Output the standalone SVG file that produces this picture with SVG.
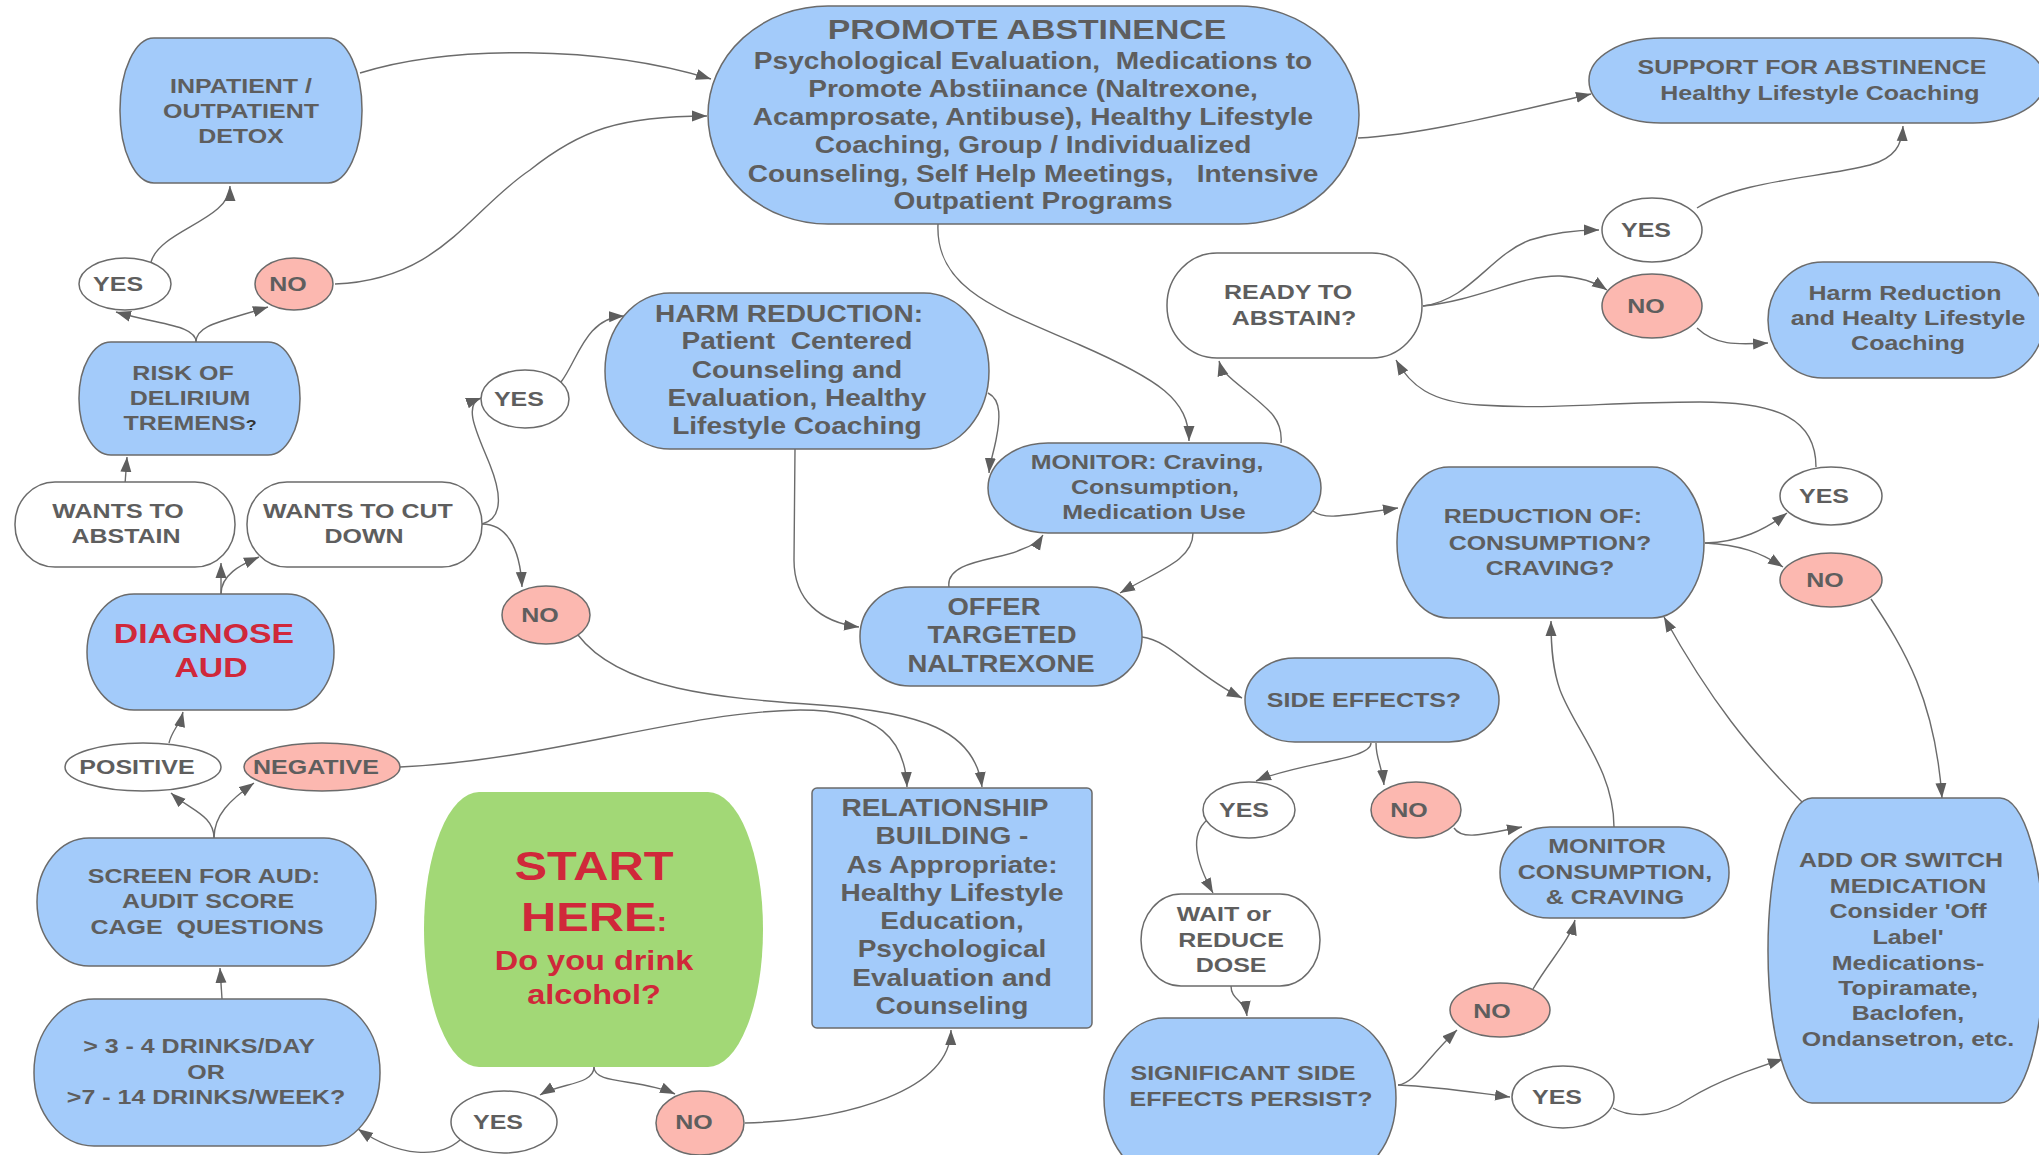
<svg xmlns="http://www.w3.org/2000/svg" width="2039" height="1155" viewBox="0 0 2039 1155">
<style>
.n{stroke:#6b6b6b;stroke-width:1.5}
.b{fill:#a3cbfa}.w{fill:#fff}.p{fill:#fcb8b0}.g{fill:#a2d876}
.t{font-family:"Liberation Sans",Arial,sans-serif;font-weight:bold;fill:#5e5e5e;text-anchor:middle;font-size:21px}
.r{fill:#d0283a}
.c path{fill:none;stroke:#6b6b6b;stroke-width:1.4;marker-end:url(#a)}
</style>
<defs>
<marker id="a" markerUnits="userSpaceOnUse" markerWidth="16" markerHeight="12" refX="15" refY="6" orient="auto"><path d="M0,0.5 L15,6 L0,11.5 z" fill="#5e5e5e"/></marker>
</defs>
<rect width="2039" height="1155" fill="#fff"/>
<g id="connectors" class="c">
<path d="M360,73 C450,45 600,45 711,79"/>
<path d="M335,284 C440,280 470,210 530,170 C580,130 620,116 707,116"/>
<path d="M196,342 C196,325 160,325 116,312"/>
<path d="M196,342 C196,325 220,322 268,307"/>
<path d="M151,262 C160,230 230,220 230,186"/>
<path d="M125,484 L127,457"/>
<path d="M221,594 L221,563"/>
<path d="M221,594 C221,575 240,565 259,557"/>
<path d="M169,743 C172,730 180,725 183,712"/>
<path d="M214,838 C214,815 190,810 171,793"/>
<path d="M214,838 C214,815 230,800 254,783"/>
<path d="M222,999 L220,968"/>
<path d="M460,1140 C440,1158 400,1158 358,1129"/>
<path d="M594,1067 C594,1085 560,1083 540,1095"/>
<path d="M594,1067 C594,1085 640,1078 675,1094"/>
<path d="M745,1123 C850,1120 950,1090 951,1030"/>
<path d="M400,767 C550,760 680,712 800,710 C880,710 905,740 907,787"/>
<path d="M578,635 C620,690 720,698 820,705 C920,712 975,730 982,787"/>
<path d="M482,524 C505,518 500,490 490,465 C478,435 462,405 481,398"/>
<path d="M482,524 C505,524 520,545 522,587"/>
<path d="M561,382 C578,360 585,318 624,316"/>
<path d="M795,449 L794,560 C794,600 820,622 859,627"/>
<path d="M988,393 C1002,400 1000,420 996,440 C993,455 990,462 989,473"/>
<path d="M938,224 C935,290 1000,310 1080,345 C1160,380 1189,400 1189,441"/>
<path d="M1281,443 C1283,420 1270,410 1245,390 C1230,378 1222,372 1219,361"/>
<path d="M1193,533 C1193,560 1160,570 1120,593"/>
<path d="M949,587 C945,560 1000,560 1020,550 C1035,545 1040,540 1043,535"/>
<path d="M1313,511 C1325,520 1340,516 1398,508"/>
<path d="M1142,637 C1170,640 1195,675 1242,698"/>
<path d="M1371,743 C1371,760 1300,762 1256,781"/>
<path d="M1376,743 C1376,760 1382,765 1384,785"/>
<path d="M1207,820 C1190,835 1195,860 1213,893"/>
<path d="M1231,986 C1231,1000 1245,1000 1247,1016"/>
<path d="M1454,828 C1462,840 1480,835 1522,827"/>
<path d="M1533,989 C1550,960 1570,940 1575,920"/>
<path d="M1398,1085 C1415,1083 1425,1060 1457,1030"/>
<path d="M1398,1085 C1440,1087 1470,1092 1510,1097"/>
<path d="M1613,1108 C1630,1118 1660,1118 1690,1098 C1720,1080 1750,1070 1783,1059"/>
<path d="M1614,827 C1614,770 1575,730 1560,690 C1553,670 1551,650 1551,621"/>
<path d="M1805,805 C1750,750 1710,700 1664,617"/>
<path d="M1871,599 C1905,650 1935,700 1942,798"/>
<path d="M1705,543 C1740,542 1765,530 1787,513"/>
<path d="M1705,543 C1740,545 1760,552 1783,567"/>
<path d="M1816,467 C1816,420 1780,402 1700,402 C1600,402 1560,410 1480,405 C1430,402 1410,385 1396,360"/>
<path d="M1423,306 C1470,300 1490,255 1530,240 C1555,232 1575,230 1599,230"/>
<path d="M1423,306 C1480,300 1520,275 1560,276 C1580,277 1595,282 1607,290"/>
<path d="M1697,328 C1715,345 1735,345 1768,343"/>
<path d="M1697,208 C1740,180 1820,178 1870,165 C1895,158 1902,145 1903,126"/>
<path d="M1358,138 C1420,135 1500,115 1591,94"/>
</g>
<g id="detox"><rect class="n b" x="120" y="38" width="242" height="145" rx="34" ry="72"/>
<text class="t" transform="scale(1.19 1)"><tspan x="202.5" y="93">INPATIENT /</tspan><tspan x="202.5" y="118">OUTPATIENT</tspan><tspan x="202.5" y="143">DETOX</tspan></text></g>
<g id="promote"><rect class="n b" x="708" y="6" width="651" height="218" rx="120" ry="109"/>
<text class="t" transform="scale(1.19 1)"><tspan x="863" y="39" style="font-size:28.4px">PROMOTE ABSTINENCE</tspan><tspan x="868.1" y="69" style="font-size:23.6px">Psychological Evaluation,&#160; Medications to</tspan><tspan x="868.1" y="97" style="font-size:23.6px">Promote Abstiinance (Naltrexone,</tspan><tspan x="868.1" y="125" style="font-size:23.6px">Acamprosate, Antibuse), Healthy Lifestyle</tspan><tspan x="868.1" y="153" style="font-size:23.6px">Coaching, Group / Individualized</tspan><tspan x="868.1" y="182" style="font-size:23.6px">Counseling, Self Help Meetings,&#160;&#160; Intensive</tspan><tspan x="868.1" y="209" style="font-size:23.6px">Outpatient Programs</tspan></text></g>
<g id="support"><rect class="n b" x="1589" y="38" width="456" height="85" rx="72" ry="42"/>
<text class="t" transform="scale(1.19 1)"><tspan x="1522.7" y="74">SUPPORT FOR ABSTINENCE</tspan><tspan x="1529.4" y="100">Healthy Lifestyle Coaching</tspan></text></g>
<g id="ready"><rect class="n w" x="1167" y="253" width="255" height="105" rx="50" ry="52"/>
<text class="t" transform="scale(1.19 1)"><tspan x="1082.4" y="299">READY TO</tspan><tspan x="1087.4" y="325">ABSTAIN?</tspan></text></g>
<g id="yes-ready"><ellipse class="n w" cx="1652" cy="230" rx="50" ry="32"/><text class="t" transform="scale(1.19 1)" x="1383.2" y="237">YES</text></g>
<g id="no-ready"><ellipse class="n p" cx="1652" cy="306" rx="50" ry="32"/><text class="t" transform="scale(1.19 1)" x="1383.2" y="313">NO</text></g>
<g id="harm-right"><rect class="n b" x="1768" y="262" width="276" height="116" rx="55" ry="58"/>
<text class="t" transform="scale(1.19 1)"><tspan x="1600.8" y="300">Harm Reduction</tspan><tspan x="1603.4" y="325">and Healty Lifestyle</tspan><tspan x="1603.4" y="350">Coaching</tspan></text></g>
<g id="risk"><rect class="n b" x="79" y="342" width="221" height="113" rx="32" ry="56"/>
<text class="t" transform="scale(1.19 1)"><tspan x="153.8" y="380">RISK OF</tspan><tspan x="159.7" y="405">DELIRIUM</tspan><tspan x="159.7" y="430">TREMENS<tspan style="font-size:15px;fill:#333">?</tspan></tspan></text></g>
<g id="yes-risk"><ellipse class="n w" cx="125" cy="284" rx="46" ry="26"/><text class="t" transform="scale(1.19 1)" x="99.2" y="291">YES</text></g>
<g id="no-risk"><ellipse class="n p" cx="294" cy="284" rx="39" ry="26"/><text class="t" transform="scale(1.19 1)" x="242" y="291">NO</text></g>
<g id="yes-cut"><ellipse class="n w" cx="525" cy="399" rx="44" ry="29"/><text class="t" transform="scale(1.19 1)" x="436.1" y="406">YES</text></g>
<g id="harm"><rect class="n b" x="605" y="293" width="384" height="156" rx="65" ry="78"/>
<text class="t" transform="scale(1.19 1)" style="font-size:23.6px"><tspan x="663" y="322">HARM REDUCTION:</tspan><tspan x="669.7" y="349">Patient&#160; Centered</tspan><tspan x="669.7" y="378">Counseling and</tspan><tspan x="669.7" y="406">Evaluation, Healthy</tspan><tspan x="669.7" y="434">Lifestyle Coaching</tspan></text></g>
<g id="abstain"><rect class="n w" x="15" y="482" width="220" height="85" rx="40" ry="42"/>
<text class="t" transform="scale(1.19 1)"><tspan x="99.2" y="518">WANTS TO</tspan><tspan x="105.9" y="543">ABSTAIN</tspan></text></g>
<g id="cutdown"><rect class="n w" x="247" y="482" width="235" height="85" rx="40" ry="42"/>
<text class="t" transform="scale(1.19 1)"><tspan x="300.8" y="518">WANTS TO CUT</tspan><tspan x="305.9" y="543">DOWN</tspan></text></g>
<g id="no-cut"><ellipse class="n p" cx="546" cy="615" rx="44" ry="29"/><text class="t" transform="scale(1.19 1)" x="453.8" y="622">NO</text></g>
<g id="diagnose"><rect class="n b" x="87" y="594" width="247" height="116" rx="47" ry="58"/>
<text class="t r" transform="scale(1.19 1)" style="font-size:28.4px"><tspan x="171.4" y="643">DIAGNOSE</tspan><tspan x="177.3" y="677">AUD</tspan></text></g>
<g id="positive"><ellipse class="n w" cx="143" cy="767" rx="78" ry="24"/><text class="t" transform="scale(1.19 1)" x="115.1" y="774">POSITIVE</text></g>
<g id="negative"><ellipse class="n p" cx="322" cy="767" rx="78" ry="24"/><text class="t" transform="scale(1.19 1)" x="265.5" y="774">NEGATIVE</text></g>
<g id="screen"><rect class="n b" x="37" y="838" width="339" height="128" rx="52" ry="64"/>
<text class="t" transform="scale(1.19 1)"><tspan x="171.4" y="883">SCREEN FOR AUD:</tspan><tspan x="174.8" y="908">AUDIT SCORE</tspan><tspan x="174" y="934">CAGE&#160; QUESTIONS</tspan></text></g>
<g id="drinks"><rect class="n b" x="34" y="999" width="346" height="147" rx="60" ry="73"/>
<text class="t" transform="scale(1.19 1)"><tspan x="167.2" y="1053">&gt; 3 - 4 DRINKS/DAY</tspan><tspan x="173.1" y="1079">OR</tspan><tspan x="173.1" y="1104">&gt;7 - 14 DRINKS/WEEK?</tspan></text></g>
<g id="start"><rect class="g" x="424" y="792" width="339" height="275" rx="55" ry="137"/>
<text class="t r" transform="scale(1.19 1)"><tspan x="499.2" y="880" style="font-size:41px">START</tspan><tspan x="499.2" y="931" style="font-size:41px">HERE<tspan style="font-size:27px">:</tspan></tspan><tspan x="499.2" y="970" style="font-size:27.3px">Do you drink</tspan><tspan x="499.2" y="1004" style="font-size:27.3px">alcohol?</tspan></text></g>
<g id="yes-start"><ellipse class="n w" cx="504" cy="1122" rx="53" ry="31"/><text class="t" transform="scale(1.19 1)" x="418.5" y="1129">YES</text></g>
<g id="no-start"><ellipse class="n p" cx="700" cy="1123" rx="44" ry="32"/><text class="t" transform="scale(1.19 1)" x="583.2" y="1129">NO</text></g>
<g id="relationship"><rect class="n b" x="812" y="788" width="280" height="240" rx="5"/>
<text class="t" transform="scale(1.19 1)" style="font-size:23.6px"><tspan x="794.1" y="816">RELATIONSHIP</tspan><tspan x="800" y="844">BUILDING -</tspan><tspan x="800" y="873">As Appropriate:</tspan><tspan x="800" y="901">Healthy Lifestyle</tspan><tspan x="800" y="929">Education,</tspan><tspan x="800" y="957">Psychological</tspan><tspan x="800" y="986">Evaluation and</tspan><tspan x="800" y="1014">Counseling</tspan></text></g>
<g id="monitor"><rect class="n b" x="988" y="443" width="333" height="90" rx="60" ry="45"/>
<text class="t" transform="scale(1.19 1)"><tspan x="963.9" y="469">MONITOR: Craving,</tspan><tspan x="970.6" y="494">Consumption,</tspan><tspan x="969.7" y="519">Medication Use</tspan></text></g>
<g id="offer"><rect class="n b" x="860" y="587" width="282" height="99" rx="50" ry="49"/>
<text class="t" transform="scale(1.19 1)" style="font-size:23.1px"><tspan x="835.3" y="615">OFFER</tspan><tspan x="842" y="643">TARGETED</tspan><tspan x="841.2" y="672">NALTREXONE</tspan></text></g>
<g id="reduction"><rect class="n b" x="1397" y="467" width="307" height="151" rx="52" ry="75"/>
<text class="t" transform="scale(1.19 1)"><tspan x="1296.6" y="523">REDUCTION OF:</tspan><tspan x="1302.5" y="550">CONSUMPTION?</tspan><tspan x="1302.5" y="575">CRAVING?</tspan></text></g>
<g id="yes-reduction"><ellipse class="n w" cx="1831" cy="496" rx="51" ry="29"/><text class="t" transform="scale(1.19 1)" x="1532.8" y="503">YES</text></g>
<g id="no-reduction"><ellipse class="n p" cx="1831" cy="580" rx="51" ry="27"/><text class="t" transform="scale(1.19 1)" x="1533.6" y="587">NO</text></g>
<g id="side-effects"><rect class="n b" x="1245" y="658" width="254" height="84" rx="50" ry="42"/>
<text class="t" transform="scale(1.19 1)" x="1146.2" y="707">SIDE EFFECTS?</text></g>
<g id="yes-side"><ellipse class="n w" cx="1249" cy="810" rx="46" ry="28"/><text class="t" transform="scale(1.19 1)" x="1045.4" y="817">YES</text></g>
<g id="no-side"><ellipse class="n p" cx="1416" cy="810" rx="45" ry="28"/><text class="t" transform="scale(1.19 1)" x="1184" y="817">NO</text></g>
<g id="wait"><rect class="n w" x="1141" y="894" width="179" height="92" rx="40" ry="46"/>
<text class="t" transform="scale(1.19 1)"><tspan x="1028.6" y="921">WAIT or</tspan><tspan x="1034.5" y="947">REDUCE</tspan><tspan x="1034.5" y="972">DOSE</tspan></text></g>
<g id="monitor-consumption"><rect class="n b" x="1500" y="827" width="229" height="91" rx="50" ry="45"/>
<text class="t" transform="scale(1.19 1)"><tspan x="1350.4" y="853">MONITOR</tspan><tspan x="1357.1" y="879">CONSUMPTION,</tspan><tspan x="1357.1" y="904">&amp; CRAVING</tspan></text></g>
<g id="no-significant"><ellipse class="n p" cx="1500" cy="1010" rx="50" ry="27"/><text class="t" transform="scale(1.19 1)" x="1253.8" y="1018">NO</text></g>
<g id="significant"><rect class="n b" x="1104" y="1018" width="292" height="160" rx="60" ry="80"/>
<text class="t" transform="scale(1.19 1)"><tspan x="1044.5" y="1080">SIGNIFICANT SIDE</tspan><tspan x="1051.3" y="1106">EFFECTS PERSIST?</tspan></text></g>
<g id="yes-significant"><ellipse class="n w" cx="1563" cy="1097" rx="51" ry="31"/><text class="t" transform="scale(1.19 1)" x="1308.4" y="1104">YES</text></g>
<g id="add-switch"><rect class="n b" x="1768" y="798" width="276" height="305" rx="44" ry="152"/>
<text class="t" transform="scale(1.19 1)"><tspan x="1597.5" y="867">ADD OR SWITCH</tspan><tspan x="1603.4" y="893">MEDICATION</tspan><tspan x="1603.4" y="918">Consider 'Off</tspan><tspan x="1603.4" y="944">Label'</tspan><tspan x="1603.4" y="970">Medications-</tspan><tspan x="1603.4" y="995">Topiramate,</tspan><tspan x="1603.4" y="1020">Baclofen,</tspan><tspan x="1603.4" y="1046">Ondansetron, etc.</tspan></text></g>
</svg>
